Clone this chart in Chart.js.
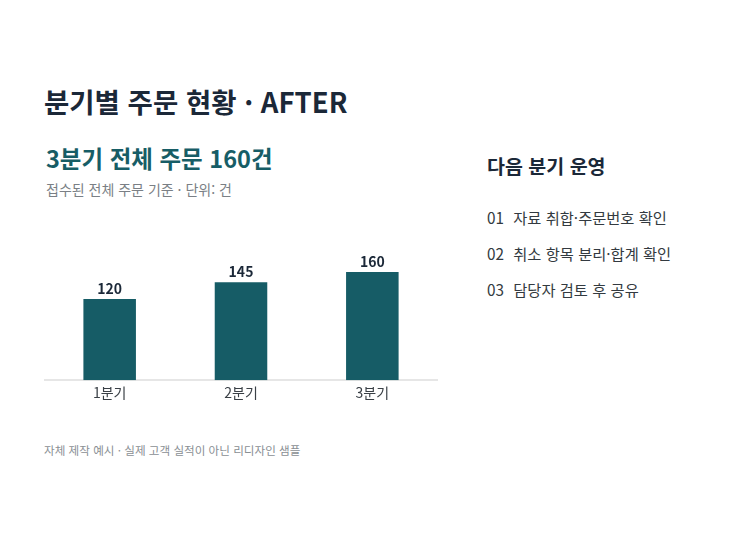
<!DOCTYPE html>
<html lang="ko">
<head>
<meta charset="utf-8">
<script src="https://cdn.jsdelivr.net/npm/chart.js@4.4.1/dist/chart.umd.min.js"></script>
<style>
  html, body { margin: 0; padding: 0; background: #fff; }
  body { width: 750px; height: 534px; position: relative; overflow: hidden;
         font-family: "Noto Sans CJK KR", "Noto Sans", sans-serif; }
  .t { position: absolute; white-space: nowrap; line-height: 1; }
  #title { left: 44px; top: 88px; font-size: 27.5px; font-weight: 700; color: #1b2838; }
  #headline { left: 46px; top: 147px; font-size: 23.5px; font-weight: 700; color: #175d66; }
  #sub { left: 46px; top: 182px; font-size: 14px; color: #7a7f85; }
  #side { left: 487px; top: 156px; font-size: 19.5px; font-weight: 700; color: #1b2838; }
  .item { left: 487px; font-size: 15.3px; color: #333a40; }
  .item span { display: inline-block; width: 22px; }
  #foot { left: 44px; top: 445px; font-size: 11.6px; color: #8a8f94; }
  #wrap { position: absolute; left: 44px; top: 245px; width: 394px; height: 160px; }
</style>
</head>
<body>
<div class="t" id="title">분기별 주문 현황 · AFTER</div>
<div class="t" id="headline">3분기 전체 주문 160건</div>
<div class="t" id="sub">접수된 전체 주문 기준 · 단위: 건</div>
<div class="t" id="side">다음 분기 운영</div>
<div id="list"></div>
<div class="t" id="foot">자체 제작 예시 · 실제 고객 실적이 아닌 리디자인 샘플</div>
<div id="wrap"><canvas id="chart"></canvas></div>

<script>
// data
const quarters = ["1분기", "2분기", "3분기"];
const orders = [120, 145, 160];
const nextSteps = ["자료 취합·주문번호 확인", "취소 항목 분리·합계 확인", "담당자 검토 후 공유"];

const barColor = "#165c66";
const fontFamily = "'Noto Sans CJK KR', 'Noto Sans', sans-serif";

// side list
const list = document.getElementById("list");
nextSteps.forEach((txt, i) => {
    const d = document.createElement("div");
    d.className = "t item";
    d.style.top = (210 + i * 36) + "px";
    d.innerHTML = `<span>${String(i + 1).padStart(2, "0")}</span> ${txt}`;
    list.appendChild(d);
});

// value labels above bars
const valueLabels = {
    id: "valueLabels",
    afterDatasetsDraw(chart) {
        const ctx = chart.ctx;
        const meta = chart.getDatasetMeta(0);
        ctx.save();
        ctx.font = `700 14px ${fontFamily}`;
        ctx.fillStyle = "#1b2838";
        ctx.textAlign = "center";
        ctx.textBaseline = "bottom";
        meta.data.forEach((bar, i) => {
            ctx.fillText(orders[i], bar.x, bar.y - 3);
        });
        ctx.restore();
    }
};

new Chart(document.getElementById("chart"), {
    type: "bar",
    data: {
        labels: quarters,
        datasets: [{
            data: orders,
            backgroundColor: barColor,
            barPercentage: 0.4,
            categoryPercentage: 1.0
        }]
    },
    options: {
        responsive: true,
        maintainAspectRatio: false,
        animation: false,
        layout: { padding: 0 },
        plugins: { legend: { display: false }, tooltip: { enabled: false } },
        scales: {
            x: {
                grid: { display: false, drawTicks: false, tickLength: 0 },
                border: { display: true, color: "#e6e6e6", width: 2 },
                ticks: { color: "#3a4046", font: { family: fontFamily, size: 14 }, padding: 4 }
            },
            y: {
                display: false,
                min: 0,
                max: 200
            }
        }
    },
    plugins: [valueLabels]
});
</script>
</body>
</html>
